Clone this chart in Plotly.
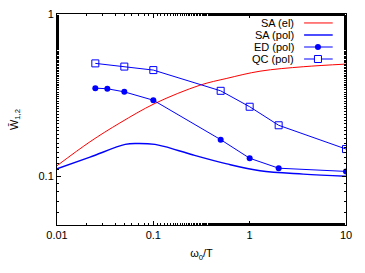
import plotly.graph_objects as go

# ---- data ----
sa_el_x = [0.01, 0.022, 0.045, 0.104, 0.305, 0.58, 1.28, 3.6, 10]
sa_el_y = [0.116, 0.163, 0.213, 0.281, 0.364, 0.401, 0.444, 0.473, 0.491]

sa_pol_x = [0.01, 0.022, 0.051, 0.068, 0.104, 0.132, 0.26, 0.58, 1.28, 3.6, 10]
sa_pol_y = [0.111, 0.131, 0.157, 0.159, 0.157, 0.152, 0.135, 0.119, 0.108, 0.103, 0.100]

ed_x = [0.025, 0.0333, 0.05, 0.1, 0.5, 1, 2, 10]
ed_y = [0.349, 0.346, 0.331, 0.294, 0.168, 0.129, 0.112, 0.107]

qc_x = [0.025, 0.05, 0.1, 0.5, 1, 2, 10]
qc_y = [0.496, 0.474, 0.451, 0.336, 0.268, 0.206, 0.147]

series_names = ["SA (el)", "SA (pol)", "ED (pol)", "QC (pol)"]
x_tickvals = [0.01, 0.1, 1, 10]
x_ticktext = ["0.01", "0.1", "1", "10"]
y_tickvals = [0.1, 1]
y_ticktext = ["0.1", "1"]

FONT = "Liberation Sans, Arial, sans-serif"
RED = "#ff0000"
BLUE = "#0000ff"

fig = go.Figure()
fig.add_trace(go.Scatter(x=sa_el_x, y=sa_el_y, mode="lines", name=series_names[0],
                         line=dict(color=RED, width=1, shape="spline")))
fig.add_trace(go.Scatter(x=sa_pol_x, y=sa_pol_y, mode="lines", name=series_names[1],
                         line=dict(color=BLUE, width=1.4, shape="spline")))
fig.add_trace(go.Scatter(x=ed_x, y=ed_y, mode="lines+markers", name=series_names[2],
                         line=dict(color=BLUE, width=1),
                         marker=dict(symbol="circle", size=6, color=BLUE)))
fig.add_trace(go.Scatter(x=qc_x, y=qc_y, mode="lines+markers", name=series_names[3],
                         line=dict(color=BLUE, width=1),
                         marker=dict(symbol="square-open", size=7, color=BLUE,
                                     line=dict(width=1, color=BLUE))))

axis_common = dict(
    showline=True, linecolor="black", linewidth=1, mirror="ticks",
    ticks="inside", ticklen=4, tickcolor="black", showgrid=False, zeroline=False,
    automargin=False,
    tickfont=dict(family=FONT, size=11, color="black"),
    minor=dict(ticks="inside", ticklen=2, tickcolor="black", showgrid=False),
)

fig.update_xaxes(type="log", range=[-2, 1], tickvals=x_tickvals, ticktext=x_ticktext,
                 title=dict(text="ω<sub>0</sub>/T", font=dict(family=FONT, size=11, color="black"),
                            standoff=9),
                 **axis_common)
fig.update_yaxes(type="log", range=[-1.30103, 0], tickvals=y_tickvals, ticktext=y_ticktext,
                 title=dict(text="W\u0304<sub>1,2</sub>", font=dict(family=FONT, size=11, color="black"),
                            standoff=17),
                 **axis_common)

fig.update_layout(
    width=365, height=273,
    margin=dict(l=57, r=19, t=14, b=48),
    paper_bgcolor="white", plot_bgcolor="white",
    showlegend=False,
)

# gnuplot-style key: right-aligned labels with samples to their right
label_y = [0.9575, 0.9005, 0.8436, 0.7867]
key_x0, key_x1, key_xm = 0.855, 0.954, 0.903
key_colors = [RED, BLUE, BLUE, BLUE]
key_widths = [1, 1.4, 1, 1]
for i, (name, yy) in enumerate(zip(series_names, label_y)):
    fig.add_annotation(text=name, xref="paper", yref="paper", x=0.826, y=yy,
                       xanchor="right", yanchor="middle", showarrow=False,
                       font=dict(family=FONT, size=11, color="black"))
    fig.add_shape(type="line", xref="paper", yref="paper",
                  x0=key_x0, x1=key_x1, y0=yy, y1=yy,
                  line=dict(color=key_colors[i], width=key_widths[i]))
# marker samples
fig.add_shape(type="circle", xref="paper", yref="paper", xsizemode="pixel", ysizemode="pixel",
              xanchor=key_xm, yanchor=label_y[2], x0=-3, x1=3, y0=-3, y1=3,
              fillcolor=BLUE, line=dict(color=BLUE, width=0))
fig.add_shape(type="rect", xref="paper", yref="paper", xsizemode="pixel", ysizemode="pixel",
              xanchor=key_xm, yanchor=label_y[3], x0=-3.5, x1=3.5, y0=-3.5, y1=3.5,
              fillcolor="white", line=dict(color=BLUE, width=1))

fig.write_html("out.html", config={"displayModeBar": False},
               post_script="document.body.style.margin='0';")
